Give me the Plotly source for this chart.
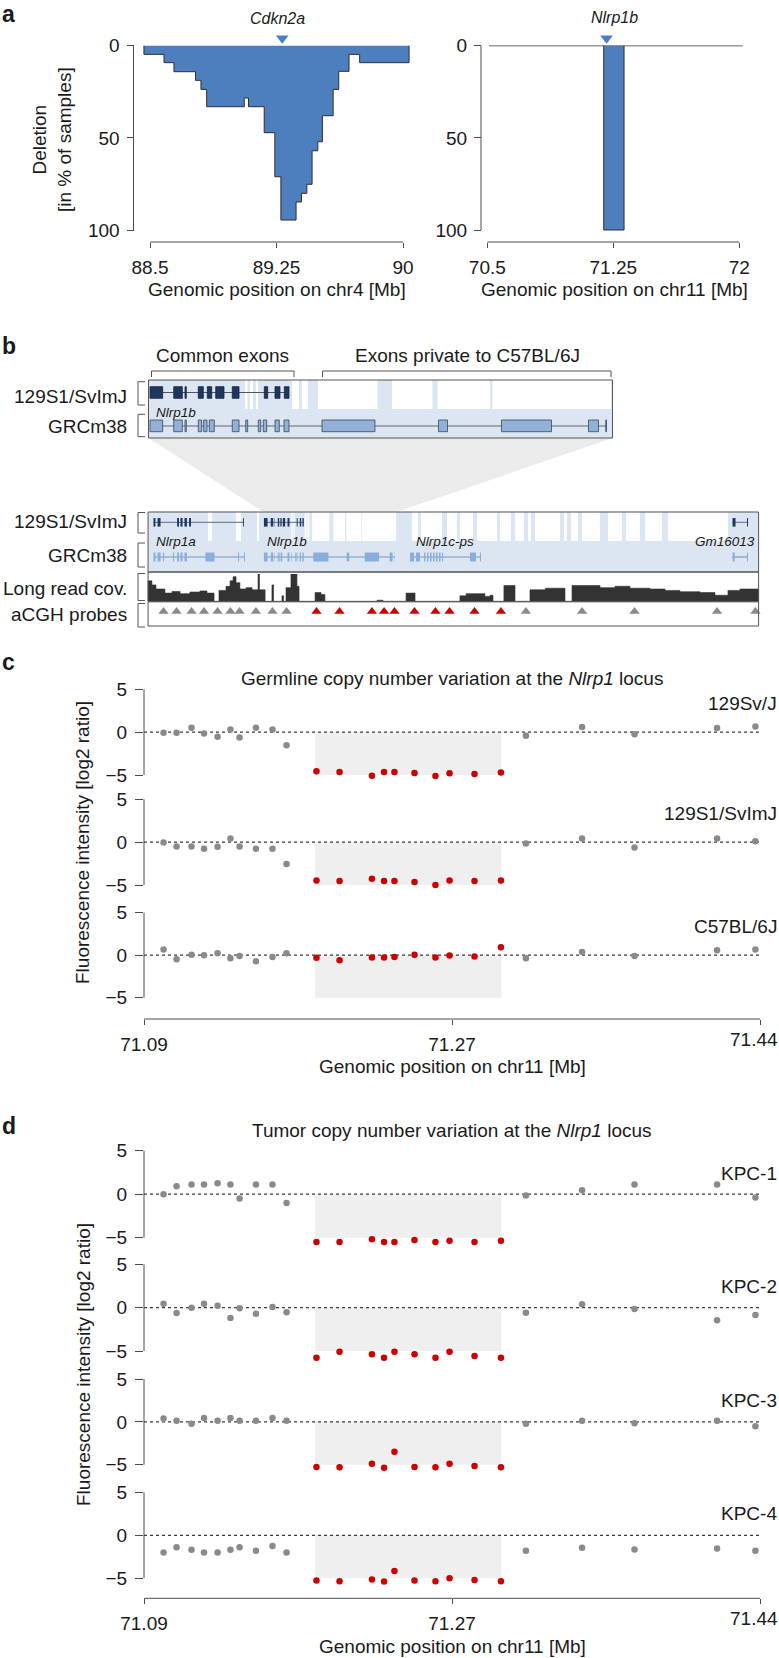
import plotly.graph_objects as go

W, H = 779, 1658
FONT = "Liberation Sans, Arial, Helvetica, sans-serif"
TXT = "#1a1a1a"
AXC = "#4a4a4a"
BLUE = "#4d7ebe"
PT_GREY = "#8a8a8a"
PT_RED = "#cc0000"
BG_BLUE = "#dce6f2"
NAVY = "#1f3760"
EXON_BLUE = "#93b1d8"
LOW_EXON_BLUE = "#8aaedb"

# ======================= DATA =======================
# (a) deletion frequency (% of samples), step function along chr4 [Mb]
chr4_seg_start = [88.464, 88.583, 88.642, 88.770, 88.802, 88.836, 89.059, 89.084, 89.177, 89.240, 89.276,
                  89.366, 89.398, 89.430, 89.461, 89.495, 89.522, 89.586, 89.619, 89.680, 89.743]
chr4_seg_pct = [4.7, 9.2, 14.1, 18.8, 23.7, 33.1, 28.4, 33.1, 47.2, 71.1, 94.6,
                84.8, 80.1, 75.2, 57.0, 52.1, 38.0, 23.7, 13.9, 4.7, 9.2]
chr4_seg_end = 90.036
chr4_ticks = [88.5, 89.25, 90]
cdkn2a_mb = 89.284

chr11_seg_start = [70.51, 71.193, 71.314]
chr11_seg_pct = [0, 100, 0]
chr11_seg_end = 72.02
chr11_ticks = [70.5, 71.25, 72]
nlrp1b_mb = 71.21
del_ticks = [0, 50, 100]

# (b) zoom window on Nlrp1b (kb from window start)
win_start_mb = 71.1579
win_len_kb = 75.6
up_129_exons_kb = [(0.24, 2.31), (4.11, 5.51), (5.95, 6.16), (8.11, 8.93), (9.58, 10.30), (10.95, 12.30),
                   (13.65, 14.75), (18.87, 19.42), (20.61, 21.42), (22.13, 22.89)]
up_grc_exons_kb = [(0.24, 2.31), (4.11, 5.51), (5.95, 6.16), (8.11, 8.66), (8.99, 9.53), (9.91, 10.72),
                   (13.65, 14.75), (15.84, 16.16), (17.89, 18.28), (18.70, 19.26), (20.61, 21.31), (22.08, 22.89),
                   (28.27, 36.90), (47.25, 48.72), (57.51, 65.66), (71.69, 73.32), (74.50, 74.62)]
up_129_absent_kb = [(15.72, 16.13), (16.54, 17.03), (17.52, 17.84), (23.38, 24.52), (25.01, 25.99),
                    (27.62, 37.31), (39.67, 46.27), (47.09, 55.64), (56.05, 75.36)]
common_kb = [0.49, 23.71]
private_kb = [28.35, 75.36]

# (b) whole locus [Mb]
locus_box_mb = [71.0923, 71.4392]
nlrp1a_grc_mb = [(71.0954, 71.0965), (71.0977, 71.0994), (71.1008, 71.1014), (71.1065, 71.1071), (71.1088, 71.1099),
                 (71.1107, 71.1119), (71.1130, 71.1144), (71.1249, 71.1301), (71.1434, 71.1440), (71.1468, 71.1474)]
nlrp1a_129_mb = [(71.0954, 71.0965), (71.0977, 71.0994), (71.1088, 71.1099), (71.1107, 71.1119),
                 (71.1130, 71.1144), (71.1156, 71.1167), (71.1463, 71.1468)]
nlrp1c_grc_mb = [(71.2411, 71.2434), (71.2445, 71.2468), (71.2491, 71.2499), (71.2508, 71.2516), (71.2525, 71.2534),
                 (71.2542, 71.2551), (71.2559, 71.2568), (71.2576, 71.2585), (71.2593, 71.2599),
                 (71.2752, 71.2786), (71.2809, 71.2815)]
gm16013_grc_mb = [(71.4244, 71.4256), (71.4326, 71.4332)]
gm16013_129_mb = [(71.4244, 71.4261), (71.4326, 71.4332)]
low_129_absent_mb = [(71.1264, 71.1286), (71.1423, 71.1451), (71.1542, 71.1553), (71.2423, 71.2457),
                     (71.2474, 71.2593), (71.2622, 71.2678), (71.2695, 71.2769), (71.2792, 71.2906),
                     (71.2923, 71.2985), (71.3008, 71.3059), (71.3082, 71.3099), (71.3122, 71.3264),
                     (71.3286, 71.3303), (71.3326, 71.3366), (71.3389, 71.3491), (71.3536, 71.3616),
                     (71.3639, 71.3718), (71.3747, 71.3843), (71.3877, 71.4218)]
cov_start_mb = [71.0923, 71.0945, 71.0968, 71.1019, 71.1059, 71.1105, 71.1161, 71.1218, 71.1258, 71.1298,
                71.1326, 71.1366, 71.1389, 71.1406, 71.1423, 71.1445, 71.1480, 71.1514, 71.1548, 71.1556,
                71.1588, 71.1627, 71.1636, 71.1684, 71.1693, 71.1707, 71.1735, 71.1769, 71.1781, 71.1872,
                71.1906, 71.1928, 71.2224, 71.2258, 71.2389, 71.2440, 71.2695, 71.2730, 71.2837, 71.2866,
                71.2883, 71.2945, 71.3008, 71.3093, 71.3180, 71.3292, 71.3332, 71.3491, 71.3576, 71.3661,
                71.3775, 71.3860, 71.3945, 71.4059, 71.4144, 71.4218, 71.4286]
cov_val = [75, 60, 45, 30, 36, 28, 34, 38, 30, 0,
           40, 55, 75, 90, 68, 45, 50, 42, 100, 42,
           0, 60, 0, 20, 0, 50, 100, 55, 0, 32,
           25, 0, 4, 0, 30, 0, 20, 28, 18, 22,
           0, 58, 0, 42, 48, 0, 58, 50, 55, 48,
           45, 40, 35, 32, 22, 40, 45]
cov_end_mb = 71.4392

# aCGH probes (shared by b, c, d)
probe_mb = [71.1011, 71.1085, 71.1170, 71.1241, 71.1318, 71.1391, 71.1443, 71.1536, 71.1630, 71.1710,
            71.1880, 71.2011, 71.2195, 71.2264, 71.2323, 71.2437, 71.2556, 71.2636, 71.2778, 71.2928,
            71.3070, 71.3389, 71.3687, 71.4156, 71.4374]
probe_deleted = [0, 0, 0, 0, 0, 0, 0, 0, 0, 0,
                 1, 1, 1, 1, 1, 1, 1, 1, 1, 1,
                 0, 0, 0, 0, 0]
del_region_mb = [71.1872, 71.2931]
cnv_x_ticks = [71.09, 71.265, 71.44]
cnv_x_ticktext = ["71.09", "71.27", "71.44"]
cnv_y_ticks = [-5, 0, 5]

# (c) germline log2 ratios
lr_129SvJ = [-0.08, -0.08, 0.51, -0.16, -0.55, 0.31, -0.63, 0.51, 0.31, -1.54, -4.57, -4.65, -5.08, -4.65, -4.65,
             -4.76, -5.12, -4.80, -4.88, -4.72, -0.43, 0.59, -0.24, 0.47, 0.67]
lr_129S1 = [-0.04, -0.50, -0.50, -0.76, -0.53, 0.42, -0.50, -0.76, -0.76, -2.56, -4.47, -4.54, -4.27, -4.54, -4.54,
            -4.66, -5.00, -4.47, -4.54, -4.47, -0.15, 0.42, -0.61, 0.42, 0.11]
lr_C57 = [0.67, -0.47, 0.04, 0.00, 0.24, -0.35, -0.08, -0.71, -0.20, 0.24, -0.31, -0.59, -0.28, -0.28, -0.20,
          0.04, -0.28, -0.04, -0.16, 0.94, -0.35, 0.39, -0.08, 0.59, 0.67]
# (d) tumor log2 ratios
lr_KPC1 = [0.00, 0.92, 1.12, 1.12, 1.27, 1.12, -0.50, 1.12, 1.12, -1.00, -5.50, -5.50, -5.19, -5.50, -5.50,
           -5.27, -5.50, -5.35, -5.50, -5.35, -0.15, 0.46, 1.12, 1.12, -0.38]
lr_KPC2 = [0.46, -0.62, 0.00, 0.46, 0.23, -1.19, -0.08, -0.69, 0.08, -0.54, -5.77, -5.08, -5.38, -5.77, -5.08,
           -5.38, -5.77, -5.08, -5.58, -5.77, -0.58, 0.38, -0.15, -1.46, -0.85]
lr_KPC3 = [0.38, 0.12, -0.23, 0.46, 0.12, 0.46, 0.12, 0.12, 0.46, 0.12, -5.27, -5.31, -4.88, -5.35, -3.50,
           -5.27, -5.31, -4.88, -5.15, -5.31, -0.23, 0.12, -0.15, 0.12, -0.50]
lr_KPC4 = [-2.00, -1.38, -1.69, -2.00, -2.00, -1.69, -1.38, -1.81, -1.23, -2.00, -5.27, -5.35, -5.15, -5.38, -4.15,
           -5.27, -5.35, -5.00, -5.19, -5.35, -1.81, -1.46, -1.65, -1.54, -1.81]

germline_rows = [("129Sv/J", lr_129SvJ), ("129S1/SvImJ", lr_129S1), ("C57BL/6J", lr_C57)]
tumor_rows = [("KPC-1", lr_KPC1), ("KPC-2", lr_KPC2), ("KPC-3", lr_KPC3), ("KPC-4", lr_KPC4)]

# ======================= HELPERS =======================
def calib(va, pa, vb, pb, p0, p1):
    k = (vb - va) / (pb - pa)
    return [va + (p0 - pa) * k, va + (p1 - pa) * k]

def PX(p):
    return p / W

def PY(p):
    return 1 - p / H

axes = {}
def axis_pair(n, xdom, xr, ydom, yr):
    s = "" if n == 1 else str(n)
    axes["xaxis" + s] = dict(domain=[PX(xdom[0]), PX(xdom[1])], range=xr, anchor="y" + s, automargin=False,
                             visible=False, showgrid=False, zeroline=False, fixedrange=True)
    axes["yaxis" + s] = dict(domain=[PY(ydom[1]), PY(ydom[0])], range=yr, anchor="x" + s, automargin=False,
                             visible=False, showgrid=False, zeroline=False, fixedrange=True)
    return "x" + s, "y" + s

TICKFONT = dict(family=FONT, size=19, color=TXT)

def show_x(name, vals, texts, pos_px=None, ticklen=5, standoff=3):
    d = dict(visible=True, showline=False, ticks="outside", ticklen=ticklen, tickwidth=1, tickcolor=AXC,
             tickmode="array", tickvals=vals, ticktext=texts, tickfont=TICKFONT, ticklabelstandoff=standoff,
             ticklabeloverflow="allow")
    if pos_px is not None:
        d.update(anchor="free", position=PY(pos_px))
    axes[name].update(d)

def show_y(name, vals, pos_px=None, ticklen=7, standoff=3):
    d = dict(visible=True, showline=False, ticks="outside", ticklen=ticklen, tickwidth=1, tickcolor=AXC,
             tickmode="array", tickvals=vals, ticktext=[str(v).replace("-", "\u2212") for v in vals],
             tickfont=TICKFONT, ticklabelstandoff=standoff, ticklabeloverflow="allow")
    if pos_px is not None:
        d.update(anchor="free", position=PX(pos_px))
    axes[name].update(d)

ann = []
def text(x_px, y_px, s, size=19, xanchor="center", angle=0, color=TXT, yanchor="middle"):
    ann.append(dict(x=PX(x_px), y=PY(y_px), xref="paper", yref="paper", text=s, showarrow=False,
                    xanchor=xanchor, yanchor=yanchor, textangle=angle, borderpad=0,
                    font=dict(family=FONT, size=size, color=color)))

shapes = []
def rect(xref, x0, x1, y0, y1, yref="paper", fill=None, line=None, lw=0, layer="above"):
    shapes.append(dict(type="rect", xref=xref, yref=yref, x0=x0, x1=x1, y0=y0, y1=y1,
                       fillcolor=fill if fill else "rgba(0,0,0,0)",
                       line=dict(color=line if line else "rgba(0,0,0,0)", width=lw), layer=layer))

def hline(xref, x0, x1, y, yref="paper", color=AXC, lw=1, dash="solid", layer="above"):
    shapes.append(dict(type="line", xref=xref, yref=yref, x0=x0, x1=x1, y0=y, y1=y,
                       line=dict(color=color, width=lw, dash=dash), layer=layer))

def vline(xref, x, y0, y1, yref="paper", color=AXC, lw=1, layer="above"):
    shapes.append(dict(type="line", xref=xref, yref=yref, x0=x, x1=x, y0=y0, y1=y1,
                       line=dict(color=color, width=lw), layer=layer))

def step_xy(starts, vals, end):
    xs, ys = [starts[0]], [0]
    for s, v in zip(starts, vals):
        xs.append(s)
        ys.append(v)
    xs += [end, end]
    ys += [vals[-1], 0]
    return xs, ys

fig = go.Figure()

# ======================= PANEL a =======================
ya_rng = calib(0, 45.7, 100, 230, 236, 30)
xa1, ya1 = axis_pair(1, (140, 412), calib(88.5, 150, 90, 403, 140, 412), (30, 236), ya_rng)
xa2, ya2 = axis_pair(2, (478, 748), calib(70.5, 487.3, 72, 739.3, 478, 748), (30, 236), ya_rng)
show_x("xaxis", chr4_ticks, ["88.5", "89.25", "90"], pos_px=242)
show_x("xaxis2", chr11_ticks, ["70.5", "71.25", "72"], pos_px=242)
show_y("yaxis", del_ticks, pos_px=133.5)
show_y("yaxis2", del_ticks, pos_px=481)
for xr, yr, xt, ypx in [("x", "y", chr4_ticks, 133.5), ("x2", "y2", chr11_ticks, 481)]:
    vline("paper", PX(ypx), del_ticks[0], del_ticks[-1], yref=yr)
    hline(xr, xt[0], xt[-1], PY(242))

xs, ys = step_xy(chr4_seg_start, chr4_seg_pct, chr4_seg_end)
fig.add_trace(go.Scatter(x=xs, y=ys, xaxis=xa1, yaxis=ya1, mode="lines", line_shape="hv",
                         fill="tozeroy", fillcolor=BLUE, line=dict(color="#2f2f2f", width=1),
                         hoverinfo="skip", showlegend=False))
fig.add_trace(go.Scatter(x=[chr11_seg_start[0], chr11_seg_end], y=[0, 0], xaxis=xa2, yaxis=ya2, mode="lines",
                         line=dict(color="#9a9a9a", width=1.5), hoverinfo="skip", showlegend=False))
for i, (s, v) in enumerate(zip(chr11_seg_start, chr11_seg_pct)):
    if v > 0:
        e = chr11_seg_start[i + 1] if i + 1 < len(chr11_seg_start) else chr11_seg_end
        bx, by = step_xy([s], [v], e)
        fig.add_trace(go.Scatter(x=bx, y=by, xaxis=xa2, yaxis=ya2, mode="lines", line_shape="hv",
                                 fill="tozeroy", fillcolor=BLUE, line=dict(color="#2f2f2f", width=1),
                                 hoverinfo="skip", showlegend=False))
for xr, yr, pos in [(xa1, ya1, cdkn2a_mb), (xa2, ya2, nlrp1b_mb)]:
    fig.add_trace(go.Scatter(x=[pos], y=[-4.0], xaxis=xr, yaxis=yr, mode="markers", cliponaxis=False,
                             marker=dict(symbol="triangle-down", size=11, color=BLUE),
                             hoverinfo="skip", showlegend=False))
text(1, 0, "<b>a</b>", size=23, xanchor="left", yanchor="top")
text(277, 18.5, "<i>Cdkn2a</i>", size=16)
text(614, 17, "<i>Nlrp1b</i>", size=16)
text(52, 140, "Deletion<br>[in % of samples]", angle=-90)
text(277, 290, "Genomic position on chr4 [Mb]")
text(614, 290, "Genomic position on chr11 [Mb]")

# ======================= PANEL b =======================
text(1, 346, "<b>b</b>", size=23, xanchor="left")
xb3, yb3 = axis_pair(3, (146, 615), calib(0, 148.5, win_len_kb, 612.5, 146, 615), (380, 438), [0, 1])
LOWX = calib(71.09, 144, 71.44, 760, 144, 766)
xb4, yb4 = axis_pair(4, (144, 766), LOWX, (512, 572), [0, 1])
xb5, yb5 = axis_pair(5, (144, 766), LOWX, (574, 601.3), [0, 100])
xb6, yb6 = axis_pair(6, (144, 766), LOWX, (602, 626), [0, 1])

def lowpx(mb):
    return 144 + (mb - 71.09) * (760 - 144) / (71.44 - 71.09)

def uppx(kb):
    return 148.5 + kb * (612.5 - 148.5) / win_len_kb

win_end_mb = win_start_mb + win_len_kb / 1000.0
shapes.append(dict(type="path", xref="paper", yref="paper",
                   path="M {a},{b} L {c},{b} L {d},{e} L {f},{e} Z".format(
                       a=PX(uppx(0)), b=PY(438), c=PX(uppx(win_len_kb)),
                       d=PX(lowpx(win_end_mb)), e=PY(512), f=PX(lowpx(win_start_mb))),
                   fillcolor="#ebebeb", line=dict(width=0), layer="below"))

rect(xb3, 0, win_len_kb, PY(438), PY(380), fill=BG_BLUE)
for a, b in up_129_absent_kb:
    rect(xb3, a, b, PY(409), PY(380), fill="white")
hline(xb3, up_129_exons_kb[0][0], up_129_exons_kb[-1][1], PY(392.5), color="#555", lw=1)
hline(xb3, up_grc_exons_kb[0][0], up_grc_exons_kb[-1][1], PY(426), color="#666", lw=1)
for a, b in up_129_exons_kb:
    rect(xb3, a, b, PY(398.3), PY(386.7), fill=NAVY, line="#14243d", lw=0.8)
for a, b in up_grc_exons_kb:
    rect(xb3, a, b, PY(431.7), PY(420), fill=EXON_BLUE, line="#34475e", lw=0.8)
rect(xb3, 0, win_len_kb, PY(438), PY(380), line="#555", lw=1)
for (a, b) in [common_kb, private_kb]:
    shapes.append(dict(type="path", xref=xb3, yref="paper",
                       path="M {a},{y1} L {a},{y0} L {b},{y0} L {b},{y1}".format(a=a, b=b, y0=PY(371), y1=PY(377)),
                       line=dict(color="#555", width=1), layer="above"))
text(222.5, 355, "Common exons")
text(467.5, 355, "Exons private to C57BL/6J")
text(155, 412, "<i>Nlrp1b</i>", size=13.5, xanchor="left")

rect(xb4, locus_box_mb[0], locus_box_mb[1], PY(572), PY(512), fill=BG_BLUE)
low_absent = list(low_129_absent_mb) + [(win_start_mb + a / 1000.0, win_start_mb + b / 1000.0)
                                        for a, b in up_129_absent_kb]
for a, b in low_absent:
    rect(xb4, a, b, PY(541), PY(512), fill="white")

nlrp1b_129_mb = [(win_start_mb + a / 1000.0, win_start_mb + b / 1000.0) for a, b in up_129_exons_kb]
nlrp1b_grc_mb = [(win_start_mb + a / 1000.0, win_start_mb + b / 1000.0) for a, b in up_grc_exons_kb]
Y129, YGRC = 522.3, 557
for exons in [nlrp1a_129_mb, nlrp1b_129_mb, gm16013_129_mb]:
    hline(xb4, exons[0][0], exons[-1][1], PY(Y129), color="#5a6b80", lw=1)
    for a, b in exons:
        rect(xb4, a, b, PY(Y129 + 4.3), PY(Y129 - 4.3), fill=NAVY)
for exons in [nlrp1a_grc_mb, nlrp1b_grc_mb, nlrp1c_grc_mb, gm16013_grc_mb]:
    hline(xb4, exons[0][0], exons[-1][1], PY(YGRC), color="#7d95b5", lw=1.2)
    for a, b in exons:
        rect(xb4, a, b, PY(YGRC + 4.5), PY(YGRC - 4.5), fill=LOW_EXON_BLUE)
rect(xb4, locus_box_mb[0], locus_box_mb[1], PY(572), PY(512), line="#555", lw=1)
text(155, 541, "<i>Nlrp1a</i>", size=13.5, xanchor="left")
text(265.5, 541, "<i>Nlrp1b</i>", size=13.5, xanchor="left")
text(415, 541, "<i>Nlrp1c-ps</i>", size=13.5, xanchor="left")
text(756, 541, "<i>Gm16013</i>", size=13.5, xanchor="right")

cx, cy = step_xy(cov_start_mb, cov_val, cov_end_mb)
fig.add_trace(go.Scatter(x=cx, y=cy, xaxis=xb5, yaxis=yb5, mode="lines", line_shape="hv",
                         fill="tozeroy", fillcolor="#333333", line=dict(color="#333333", width=0.6),
                         hoverinfo="skip", showlegend=False))
rect(xb4, locus_box_mb[0], locus_box_mb[1], PY(601.7), PY(572), line="#555", lw=1)
fig.add_trace(go.Scatter(x=probe_mb, y=[0.6] * len(probe_mb), xaxis=xb6, yaxis=yb6, mode="markers",
                         marker=dict(symbol="triangle-up", size=9,
                                     color=[PT_RED if d else PT_GREY for d in probe_deleted]),
                         hoverinfo="skip", showlegend=False, cliponaxis=False))
rect(xb4, locus_box_mb[0], locus_box_mb[1], PY(626), PY(601.7), line="#555", lw=1)

for lab, yc, top, bot in [("129S1/SvImJ", 396.7, 381.7, 405), ("GRCm38", 426.7, 414.3, 436.7),
                          ("129S1/SvImJ", 521.7, 512.5, 533), ("GRCm38", 555, 543, 567),
                          ("Long read cov.", 588.3, 573.5, 600.5), ("aCGH probes", 615, 603.5, 627)]:
    text(128, yc, lab, xanchor="right")
    shapes.append(dict(type="path", xref="paper", yref="paper",
                       path="M {r},{t} L {l},{t} L {l},{b} L {r},{b}".format(
                           r=PX(145), l=PX(138), t=PY(top), b=PY(bot)),
                       line=dict(color="#555", width=1), layer="above"))

# ======================= PANELS c, d =======================
def cnv_panel(rows, start_n, calibs, doms, label_px, axis_px, label_y_px):
    names = []
    for i, ((lab, vals), (p5, pm5), (dt, db), lpx) in enumerate(zip(rows, calibs, doms, label_px)):
        n = start_n + i
        xr, yr = axis_pair(n, (144, 766), LOWX, (dt, db), calib(5, p5, -5, pm5, db, dt))
        show_y("yaxis" + str(n), cnv_y_ticks, ticklen=8, standoff=4)
        rect(xr, del_region_mb[0], del_region_mb[1], -5, 0, yref=yr, fill="#efefef", layer="below")
        hline(xr, cnv_x_ticks[0], cnv_x_ticks[-1], 0, yref=yr, color="#3a3a3a", lw=1.2, dash="dot", layer="below")
        shapes.append(dict(type="line", xref=xr + " domain", yref=yr, x0=0, x1=0, y0=-5, y1=5,
                           line=dict(color=AXC, width=1)))
        fig.add_trace(go.Scatter(x=probe_mb, y=vals, xaxis=xr, yaxis=yr, mode="markers", cliponaxis=False,
                                 marker=dict(size=6.5, color=[PT_RED if d else PT_GREY for d in probe_deleted]),
                                 hoverinfo="skip", showlegend=False))
        text(778, lpx, lab, xanchor="right")
        names.append((xr, yr))
    last = "xaxis" + str(start_n + len(rows) - 1)
    # last tick label is placed flush with the right edge (as in the original figure)
    show_x(last, cnv_x_ticks, cnv_x_ticktext[:-1] + [""], ticklen=5, standoff=3)
    text(778.5, label_y_px, cnv_x_ticktext[-1], xanchor="right")
    hline(names[-1][0], cnv_x_ticks[0], cnv_x_ticks[-1], PY(axis_px))

cnv_panel(germline_rows, 7,
          [(689.3, 775), (799.3, 885), (912.7, 997.7)],
          [(681, 787), (787, 899), (899, 1019)],
          [703.3, 813.3, 926.7], 1019, 1039)
cnv_panel(tumor_rows, 10,
          [(1150.7, 1237.7), (1264.3, 1351), (1379, 1464.7), (1492.3, 1578.3)],
          [(1142, 1251), (1251, 1364.5), (1364.5, 1478.5), (1478.5, 1598.3)],
          [1173.3, 1286.7, 1400, 1513.3], 1598.3, 1618.5)

text(1, 662, "<b>c</b>", size=23, xanchor="left")
text(452, 678.3, "Germline copy number variation at the <i>Nlrp1</i> locus")
text(83, 843, "Fluorescence intensity [log2 ratio]", angle=-90)
text(452, 1066.7, "Genomic position on chr11 [Mb]")
text(1, 1126, "<b>d</b>", size=23, xanchor="left")
text(452, 1130, "Tumor copy number variation at the <i>Nlrp1</i> locus")
text(83, 1365, "Fluorescence intensity [log2 ratio]", angle=-90)
text(452, 1646.7, "Genomic position on chr11 [Mb]")

fig.update_layout(template="none", width=W, height=H, margin=dict(l=0, r=0, t=0, b=0, pad=0, autoexpand=False),
                  paper_bgcolor="white", plot_bgcolor="rgba(0,0,0,0)",
                  font=dict(family=FONT, size=19, color=TXT),
                  showlegend=False, annotations=ann, shapes=shapes, **axes)
fig.write_html("out.html", config={"displayModeBar": False},
               post_script="document.body.style.margin='0';")
